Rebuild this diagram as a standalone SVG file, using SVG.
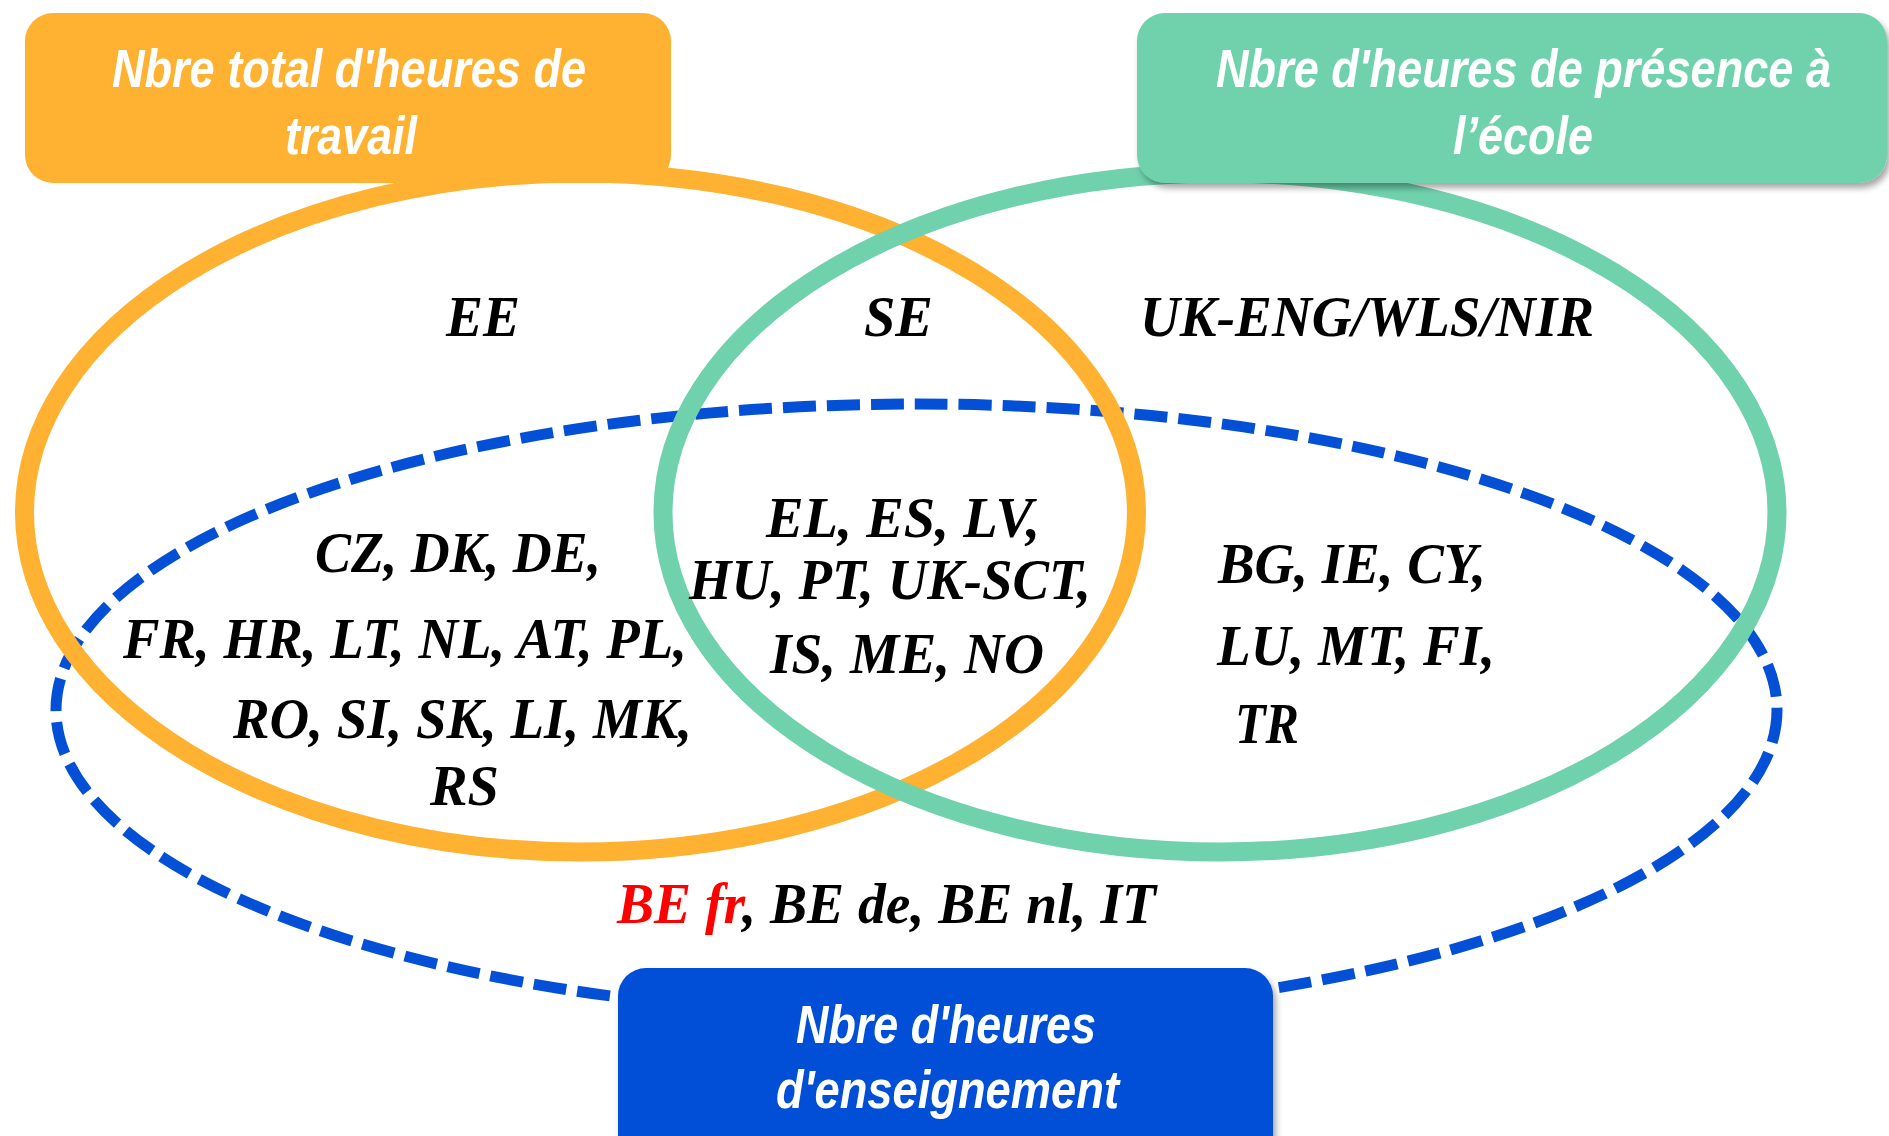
<svg xmlns="http://www.w3.org/2000/svg" width="1889" height="1136" viewBox="0 0 1889 1136">
  <defs>
    <filter id="shadow" x="-10%" y="-10%" width="125%" height="130%">
      <feDropShadow dx="3" dy="5" stdDeviation="3" flood-color="#000" flood-opacity="0.35"/>
    </filter>
    <style>
      .ring { fill: none; stroke-width: 19; }
      .orange { stroke: #FFB132; }
      .green { stroke: #70D1AD; }
      .blue { stroke: #0350D6; stroke-width: 11; stroke-dasharray: 33 11; fill: none; }
      .label { font-family: "Liberation Sans", Arial, sans-serif; font-style: italic; font-weight: bold; font-size: 54px; fill: #FFFFFF; }
      .cc { font-family: "Liberation Serif", "Times New Roman", serif; font-style: italic; font-weight: bold; font-size: 56px; fill: #000000; }
      .red { fill: #FF0000; }
    </style>
  </defs>
  <rect x="0" y="0" width="1889" height="1136" fill="#FFFFFF"/>

  <g id="sets">
    <ellipse id="ring-enseignement" class="blue" cx="916.5" cy="710" rx="860.5" ry="306"/>
    <ellipse id="ring-total" class="ring orange" cx="580.5" cy="512.5" rx="556" ry="339.5"/>
    <ellipse id="ring-presence" class="ring green" cx="1220" cy="512.5" rx="557" ry="339.5"/>
  </g>

  <g id="node-total">
    <rect x="25" y="13" width="646" height="170" rx="28" ry="28" fill="#FFB132"/>
    <text class="label" x="112" y="87" textLength="474" lengthAdjust="spacingAndGlyphs">Nbre total d'heures de</text>
    <text class="label" x="285" y="154" textLength="132" lengthAdjust="spacingAndGlyphs">travail</text>
  </g>

  <g id="node-presence">
    <rect x="1137" y="13" width="750" height="170" rx="28" ry="28" fill="#70D1AD" filter="url(#shadow)"/>
    <text class="label" x="1216" y="87" textLength="615" lengthAdjust="spacingAndGlyphs">Nbre d'heures de présence à</text>
    <text class="label" x="1453" y="154" textLength="140" lengthAdjust="spacingAndGlyphs">l’école</text>
  </g>

  <g id="node-enseignement">
    <rect x="618" y="968" width="655" height="210" rx="28" ry="28" fill="#0350D6" filter="url(#shadow)"/>
    <text class="label" x="796" y="1043" textLength="300" lengthAdjust="spacingAndGlyphs">Nbre d'heures</text>
    <text class="label" x="776" y="1108" textLength="343" lengthAdjust="spacingAndGlyphs">d'enseignement</text>
  </g>

  <g id="region-total-only">
    <text class="cc" x="446" y="336" textLength="74" lengthAdjust="spacingAndGlyphs">EE</text>
  </g>
  <g id="region-total-presence">
    <text class="cc" x="864" y="336" textLength="69" lengthAdjust="spacingAndGlyphs">SE</text>
  </g>
  <g id="region-presence-only">
    <text class="cc" x="1140" y="336" textLength="454" lengthAdjust="spacingAndGlyphs">UK-ENG/WLS/NIR</text>
  </g>
  <g id="region-total-enseignement">
    <text class="cc" x="315" y="572" textLength="286" lengthAdjust="spacingAndGlyphs">CZ, DK, DE,</text>
    <text class="cc" x="123" y="658" textLength="564" lengthAdjust="spacingAndGlyphs">FR, HR, LT, NL, AT, PL,</text>
    <text class="cc" x="233" y="738" textLength="459" lengthAdjust="spacingAndGlyphs">RO, SI, SK, LI, MK,</text>
    <text class="cc" x="430" y="805" textLength="69" lengthAdjust="spacingAndGlyphs">RS</text>
  </g>
  <g id="region-all">
    <text class="cc" x="766" y="537" textLength="274" lengthAdjust="spacingAndGlyphs">EL, ES, LV,</text>
    <text class="cc" x="689" y="599" textLength="402" lengthAdjust="spacingAndGlyphs">HU, PT, UK-SCT,</text>
    <text class="cc" x="770" y="673" textLength="274" lengthAdjust="spacingAndGlyphs">IS, ME, NO</text>
  </g>
  <g id="region-presence-enseignement">
    <text class="cc" x="1218" y="583" textLength="268" lengthAdjust="spacingAndGlyphs">BG, IE, CY,</text>
    <text class="cc" x="1217" y="665" textLength="278" lengthAdjust="spacingAndGlyphs">LU, MT, FI,</text>
    <text class="cc" x="1235" y="743" textLength="64" lengthAdjust="spacingAndGlyphs">TR</text>
  </g>
  <g id="region-enseignement-only">
    <text class="cc" x="617" y="923" textLength="539" lengthAdjust="spacingAndGlyphs"><tspan class="red">BE fr</tspan>, BE de, BE nl, IT</text>
  </g>
</svg>
